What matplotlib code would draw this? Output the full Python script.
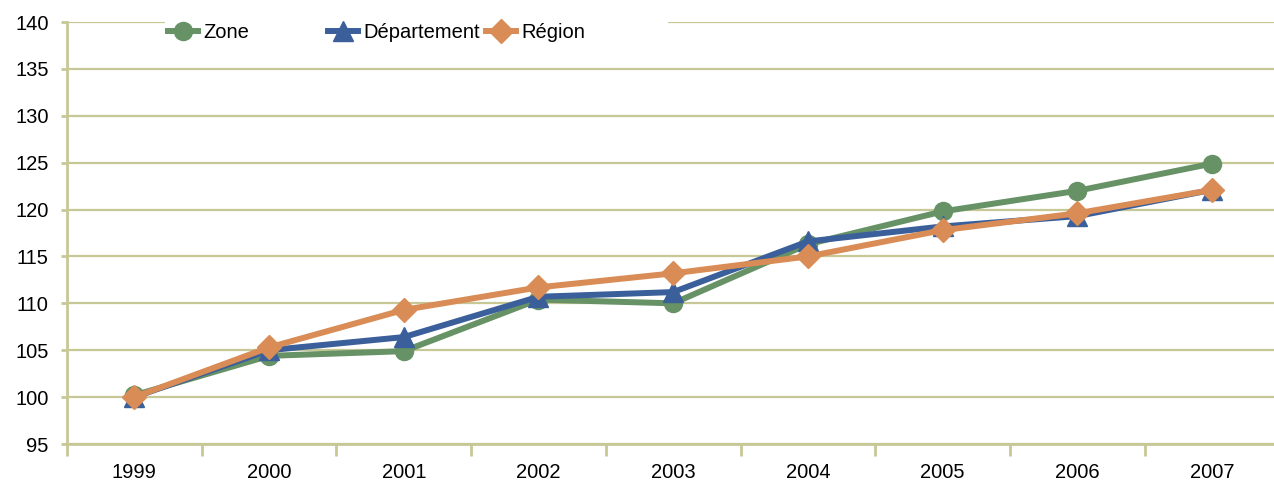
import matplotlib.pyplot as plt
from matplotlib.patches import Rectangle
from matplotlib.legend import Legend

years = ["1999", "2000", "2001", "2002", "2003", "2004", "2005", "2006", "2007"]
zone = [100.2, 104.4, 104.9, 110.4, 110.0, 116.3, 119.8, 122.0, 124.9]
departement = [100.0, 105.0, 106.4, 110.7, 111.2, 116.6, 118.2, 119.3, 122.1]
region = [100.0, 105.3, 109.3, 111.7, 113.2, 115.0, 117.8, 119.6, 122.1]

plt.rcParams['font.family'] = ['Liberation Sans', 'DejaVu Sans']
grid_col = "#c8c896"
W, H = 1274, 480

fig = plt.figure(figsize=(W / 100, H / 100), dpi=100)
ax = fig.add_axes([67/W, 1-444/H, 1-67/W, (444-22)/H])

x = range(len(years))
l1, = ax.plot(x, zone, color="#669266", lw=4.3, marker="o", ms=13, label="Zone", zorder=3)
l2, = ax.plot(x, departement, color="#3a5f9a", lw=4.3, marker="^", ms=14, label="Département", zorder=4)
l3, = ax.plot(x, region, color="#d98c55", lw=4.3, marker="D", ms=12, label="Région", zorder=5)

ax.set_ylim(95, 140)
ax.set_yticks(range(95, 141, 5))
ax.set_xlim(-0.5, 8.46)
ax.set_xticks([i - 0.5 for i in range(len(years))])
ax.set_xticklabels([])
ax.set_xticks(list(x), minor=True)
ax.set_xticklabels(years, minor=True)
ax.tick_params(axis="x", which="major", length=8.6, width=2, color=grid_col)
ax.tick_params(axis="x", which="minor", length=0, pad=14, labelsize=14.5)
ax.tick_params(axis="y", length=4.3, width=2, color=grid_col, labelsize=14.5, pad=9)

ax.grid(axis="y", color=grid_col, lw=1.6)
ax.set_axisbelow(True)
for s in ["top", "right"]:
    ax.spines[s].set_visible(False)
for s in ["left", "bottom"]:
    ax.spines[s].set_color(grid_col)
    ax.spines[s].set_linewidth(2)

# white legend band over the top gridline
ax.add_patch(Rectangle((165/W, 1-42/H), (668-165)/W, 30/H, transform=fig.transFigure,
                       facecolor="white", edgecolor="none", clip_on=False, zorder=8))

for line, xpix in [(l1, 168), (l2, 328), (l3, 486)]:
    leg = Legend(ax, [line], [line.get_label()], loc="center left",
                 bbox_to_anchor=(xpix/W, 1-33/H), bbox_transform=fig.transFigure,
                 frameon=False, fontsize=14.5, handlelength=1.5, handletextpad=0.25,
                 borderpad=0, borderaxespad=0)
    leg.set_zorder(10)
    ax.add_artist(leg)

fig.savefig("out.png", dpi=100)
